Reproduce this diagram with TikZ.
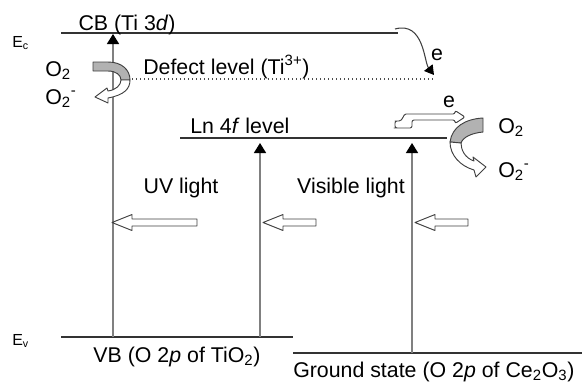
\documentclass[tikz,border=0pt]{standalone}
\usepackage{fontspec}
\setmainfont{Liberation Sans}
\usetikzlibrary{arrows.meta}

\begin{document}
\begin{tikzpicture}[x=0.75pt, y=-0.75pt,
  every node/.style={font=\fontsize{16}{19}\selectfont, inner sep=0pt},
  small/.style={font=\fontsize{12}{14}\selectfont},
  level/.style={line width=1.5pt, black!80},
  excite/.style={line width=1.1pt, black!50, -{Triangle[width=9pt,length=7.5pt,color=black]}},
  hollow/.style={draw=black!75, line width=0.7pt, fill=white, line join=round},
  band/.style={draw=black!75, line width=0.7pt, fill=black!30, line join=round}]
  \useasboundingbox (0,0) rectangle (584,382);
  % levels
  \coordinate (cbW) at (61,33);   \coordinate (cbE) at (398,33);
  \coordinate (dfW) at (128,79);  \coordinate (dfE) at (433,79);
  \coordinate (lnW) at (180,137.5); \coordinate (lnE) at (447,137.5);
  \coordinate (vbW) at (61,337);  \coordinate (vbE) at (293,337);
  \coordinate (gsW) at (293,353); \coordinate (gsE) at (582,353);
  \draw[level] (cbW) -- (cbE);
  \draw[black!70, line width=1pt, dotted] (dfW) -- (dfE);
  \draw[level] (lnW) -- (lnE);
  \draw[level] (vbW) -- (vbE);
  \draw[level] (gsW) -- (gsE);
  % excitations
  \coordinate (uvB) at (113,337); \coordinate (uvT) at (113,34);
  \coordinate (vlB) at (260,337); \coordinate (vlT) at (260,143);
  \coordinate (gsB) at (412,353); \coordinate (gsT) at (412,143);
  \draw[excite] (uvB) -- (uvT);
  \draw[excite] (vlB) -- (vlT);
  \draw[excite] (gsB) -- (gsT);
  % light arrows
  \foreach \tip/\tail in {112/197, 263/316, 415/468}
    \draw[hollow] (\tip,222.5) -- (\tip+20,214.5) -- (\tip+20,219) -- (\tail,219)
      -- (\tail,226) -- (\tip+20,226) -- (\tip+20,230.5) -- cycle;
  % electron transfer CB -> defect
  \coordinate (eS) at (395,29); \coordinate (eT) at (434,75);
  \draw[line width=0.8pt, black!75, -{Triangle[width=8pt,length=7pt,color=black]}]
    (eS) .. controls (424,21) and (424,62) .. (eT);
  % electron transfer Ln 4f -> O2
  \draw[hollow, rounded corners=1.5pt] (396,128) -- (412,128) -- (412,120) -- (455,120)
    -- (455,123.5) -- (465,117) -- (455,110.5) -- (455,114) -- (408,114)
    .. controls (403,114) and (403,121) .. (397,121) -- (395,121) -- (395,128) -- cycle;
  % O2 reduction, left
  \draw[band] (93,62) -- (108,62) .. controls (122,62) and (130,70) .. (130,80)
    -- (121,80) .. controls (121,75) and (116,71) .. (108,71) -- (93,71) -- cycle;
  \draw[hollow] (130,80) .. controls (130,89) and (124,95) .. (108,98) -- (108,103)
    -- (95,97) -- (107,88) -- (108,91) .. controls (116,90) and (121,85) .. (121,80) -- cycle;
  % O2 reduction, right
  \draw[band] (483,118) .. controls (465,119) and (452,127) .. (450,142) -- (461,143)
    .. controls (463,137) and (472,133) .. (483,132) -- cycle;
  \draw[hollow] (450,142) .. controls (450,155) and (460,166) .. (474,170) -- (476,177)
    -- (486,167) -- (473,157) -- (474,161) .. controls (465,158) and (461,150) .. (461,143) -- cycle;
  % labels
  \node[small, anchor=base west] (Ec) at (12,47) {E\textsubscript{c}};
  \node[small, anchor=base west] (Ev) at (12,345) {E\textsubscript{v}};
  \node[anchor=base] (cb) at (127,30) {CB (Ti 3\textit{d})};
  \node[anchor=base west] (df) at (143,74) {Defect level (Ti\textsuperscript{3+})};
  \node[anchor=base west] (ln) at (190,133) {Ln 4\textit{f} level};
  \node[anchor=base west] (o2L) at (45,76) {O\textsubscript{2}};
  \node[anchor=base west] (o2mL) at (45,104) {O\textsubscript{2}\textsuperscript{-}};
  \node[anchor=base west] (o2R) at (498,133) {O\textsubscript{2}};
  \node[anchor=base west] (o2mR) at (498,177) {O\textsubscript{2}\textsuperscript{-}};
  \node[anchor=base] (e1) at (437,60) {e};
  \node[anchor=base] (e2) at (449,107) {e};
  \node[anchor=base] (uv) at (181,193) {UV light};
  \node[anchor=base] (vis) at (351,193) {Visible light};
  \node[anchor=base] (vb) at (177,362) {VB (O 2\textit{p} of TiO\textsubscript{2})};
  \node[anchor=base west] (gs) at (293,377) {Ground state (O 2\textit{p} of Ce\textsubscript{2}O\textsubscript{3})};
\end{tikzpicture}
\end{document}
